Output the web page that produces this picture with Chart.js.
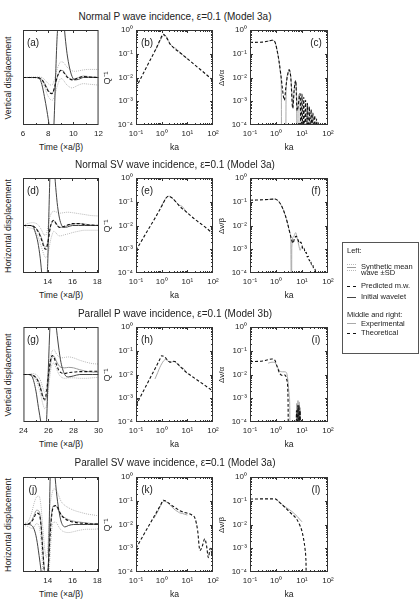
<!DOCTYPE html>
<html>
<head>
<meta charset="utf-8">
<script src="https://cdn.jsdelivr.net/npm/chart.js@4.4.0/dist/chart.umd.min.js"></script>
<style>
  body { margin: 0; background: #fff; }
  #page { position: relative; width: 419px; height: 603px; overflow: hidden;
          font-family: "Liberation Sans", Arial, sans-serif; color: #222; }
  canvas { position: absolute; }
  .t { position: absolute; white-space: nowrap; line-height: 1; }
  .s { position: absolute; height: 0; }
  #legend { position: absolute; left: 342px; top: 242px; width: 75px; height: 110px; border: 1px solid #555; }
</style>
</head>
<body>
<div id="page"><div id="legend"></div></div>
<script>
// ---- left column: waveforms, amplitude normalised so the panel spans -1..1 ----
var timeA = [6, 7, 7.3, 7.5, 7.7, 7.9, 8.1, 8.3, 8.4, 8.5, 8.6, 8.7, 8.8, 9.0, 9.2, 9.35, 9.5, 9.7, 9.9, 10.1, 10.4, 10.8, 11.2, 12];
var initA = [0, 0, -0.02, -0.15, -0.4, -0.7, -1.05, -1.5, -1.3, -0.7, 0.1, 0.8, 1.2, 1.8, 1.3, 0.85, 0.5, 0.2, 0.02, -0.05, -0.04, 0, 0, 0];
var meanA = [0, 0, -0.01, -0.04, -0.11, -0.22, -0.3, -0.33, -0.3, -0.22, -0.12, -0.02, 0.06, 0.15, 0.14, 0.08, 0.03, -0.02, -0.04, -0.03, 0, 0.03, 0.02, 0];
var predA = [0, 0, -0.01, -0.05, -0.13, -0.24, -0.32, -0.34, -0.3, -0.21, -0.1, 0, 0.07, 0.15, 0.12, 0.06, 0.01, -0.03, -0.05, -0.04, -0.01, 0.02, 0.01, 0];
var upA   = [0, 0.01, 0.01, 0, -0.04, -0.1, -0.15, -0.16, -0.12, -0.04, 0.06, 0.16, 0.24, 0.33, 0.32, 0.27, 0.22, 0.17, 0.14, 0.13, 0.14, 0.16, 0.17, 0.17];
var loA   = [0, -0.01, -0.03, -0.08, -0.19, -0.34, -0.44, -0.48, -0.46, -0.4, -0.3, -0.2, -0.12, -0.02, -0.05, -0.11, -0.16, -0.2, -0.22, -0.2, -0.16, -0.13, -0.14, -0.16];

var timeD = [12, 12.5, 12.8, 13.0, 13.2, 13.4, 13.55, 13.7, 13.85, 14.0, 14.1, 14.2, 14.35, 14.5, 14.65, 14.8, 15.0, 15.3, 15.6, 16.0, 16.5, 17, 17.5, 18.15];
var initD = [0, 0, -0.02, -0.15, -0.35, -0.7, -1.1, -1.5, -1.4, -0.8, 0.3, 1.2, 1.7, 1.3, 0.8, 0.4, 0.1, -0.04, -0.03, 0, 0, 0, 0, 0];
var meanD = [0, 0, -0.01, -0.04, -0.1, -0.2, -0.3, -0.42, -0.45, -0.35, -0.2, -0.05, 0.07, 0.1, 0.06, 0, -0.04, -0.03, 0, 0.03, 0.04, 0.03, 0.01, 0];
var predD = [0, 0, -0.01, -0.05, -0.12, -0.23, -0.34, -0.46, -0.5, -0.38, -0.22, -0.05, 0.08, 0.11, 0.05, -0.01, -0.04, -0.02, 0.01, 0.04, 0.04, 0.02, 0.01, 0];
var upD   = [0, 0.05, 0.06, 0.05, 0.02, -0.05, -0.12, -0.2, -0.2, -0.05, 0.1, 0.2, 0.28, 0.3, 0.29, 0.27, 0.26, 0.27, 0.28, 0.27, 0.25, 0.23, 0.21, 0.2];
var loD   = [0, -0.05, -0.07, -0.12, -0.22, -0.38, -0.5, -0.62, -0.68, -0.62, -0.5, -0.35, -0.2, -0.12, -0.15, -0.2, -0.22, -0.2, -0.18, -0.15, -0.12, -0.1, -0.1, -0.1];

var timeG = [24, 24.4, 24.7, 25.0, 25.2, 25.4, 25.55, 25.7, 25.85, 26.0, 26.15, 26.3, 26.45, 26.6, 26.8, 27.0, 27.3, 27.6, 28, 28.5, 29, 29.5, 30];
var initG = [0, 0, -0.05, -0.35, -0.7, -1.02, -1.3, -1.3, -0.95, 0.2, 1.2, 1.6, 1.4, 1.05, 0.6, 0.25, 0, -0.05, -0.03, 0, 0, 0, 0];
var meanG = [0, 0, -0.01, -0.06, -0.14, -0.3, -0.45, -0.55, -0.45, -0.1, 0.2, 0.37, 0.38, 0.3, 0.2, 0.15, 0.14, 0.15, 0.14, 0.1, 0.07, 0.05, 0.05];
var predG = [0, 0, -0.01, -0.07, -0.16, -0.33, -0.48, -0.52, -0.35, 0, 0.28, 0.4, 0.35, 0.24, 0.1, 0.04, 0.02, 0.04, 0.05, 0.06, 0.06, 0.07, 0.07];
var upG   = [0, 0, 0.02, 0, -0.05, -0.15, -0.28, -0.38, -0.25, 0.08, 0.35, 0.5, 0.52, 0.45, 0.38, 0.35, 0.36, 0.37, 0.35, 0.3, 0.26, 0.23, 0.22];
var loG   = [0, 0, -0.03, -0.12, -0.25, -0.45, -0.62, -0.72, -0.65, -0.3, 0.05, 0.22, 0.24, 0.15, 0.02, -0.05, -0.08, -0.07, -0.07, -0.08, -0.08, -0.07, -0.06];

var timeJ = [12, 12.4, 12.7, 12.9, 13.1, 13.3, 13.45, 13.6, 13.75, 13.9, 14.05, 14.2, 14.35, 14.5, 14.7, 14.9, 15.1, 15.4, 15.7, 16.1, 16.6, 17.2, 17.7, 18.15];
var initJ = [0, 0, -0.02, -0.1, -0.3, -0.65, -0.95, -1.3, -1.5, -1.4, -0.95, 1.0, 1.6, 1.3, 0.7, 0.3, 0.05, -0.05, -0.02, 0, 0, 0, 0, 0];
var meanJ = [0, 0.01, 0.08, 0.2, 0.3, 0.28, 0.05, -0.5, -1.0, -1.2, -0.8, -0.1, 0.3, 0.4, 0.38, 0.28, 0.2, 0.14, 0.1, 0.07, 0.05, 0.03, 0.02, 0.02];
var predJ = [0, 0.01, 0.06, 0.15, 0.24, 0.22, 0, -0.55, -1.05, -1.25, -0.9, -0.2, 0.25, 0.38, 0.4, 0.3, 0.2, 0.12, 0.08, 0.05, 0.03, 0.02, 0.01, 0.01];
var upJ   = [0.02, 0.06, 0.25, 0.45, 0.58, 0.6, 0.4, -0.05, -0.5, -0.7, -0.3, 0.4, 0.65, 0.75, 0.72, 0.6, 0.48, 0.4, 0.35, 0.3, 0.26, 0.22, 0.2, 0.18];
var loJ   = [-0.02, -0.04, -0.08, -0.05, 0.02, -0.04, -0.3, -0.95, -1.5, -1.7, -1.3, -0.6, -0.05, 0.05, 0.04, -0.05, -0.12, -0.16, -0.17, -0.15, -0.12, -0.1, -0.1, -0.09];

// ---- middle column: Q^-1 against ka ----
var kaB  = [0.1, 0.3, 0.6, 0.9, 1.15, 1.5, 2.1, 3.3, 5.2, 10, 20, 50, 100];
var qB   = [3.7e-3, 0.038, 0.16, 0.42, 0.66, 0.5, 0.26, 0.16, 0.11, 0.062, 0.033, 0.0145, 0.0075];
var kaBx = [0.55, 0.7, 0.9, 1.1, 1.3, 1.6, 2.1, 3.0, 3.5, 4.5, 6, 8, 10];
var qBx  = [0.13, 0.22, 0.38, 0.55, 0.62, 0.48, 0.27, 0.18, 0.17, 0.13, 0.1, 0.075, 0.062];

var kaE  = [0.1, 0.3, 0.6, 1.0, 1.4, 1.8, 2.4, 3.3, 5, 6.5, 8, 10, 20, 50, 100];
var qE   = [9e-4, 6.8e-3, 0.024, 0.065, 0.13, 0.17, 0.15, 0.11, 0.065, 0.05, 0.042, 0.034, 0.018, 8.5e-3, 4.5e-3];
var kaEx = [0.9, 1.2, 1.6, 2.0, 2.6, 3.5, 4.5, 5.5, 6.5, 7.5, 9, 10];
var qEx  = [0.055, 0.1, 0.16, 0.17, 0.14, 0.1, 0.075, 0.068, 0.062, 0.05, 0.039, 0.034];

var kaH  = [0.1, 0.3, 0.6, 0.85, 1.0, 1.3, 1.7, 2.1, 2.6, 3.3, 4.5, 6, 8, 10, 20, 50, 100];
var qH   = [5e-4, 5e-3, 0.021, 0.044, 0.062, 0.055, 0.04, 0.033, 0.036, 0.035, 0.026, 0.019, 0.014, 0.0115, 6.8e-3, 3.4e-3, 2e-3];
var kaHx = [0.55, 0.7, 0.85, 1.0, 1.2, 1.45, 1.8, 2.2, 2.7, 3.3, 4.5, 5.5, 6.5, 7.5, 8.5, 10];
var qHx  = [6.5e-3, 0.012, 0.02, 0.028, 0.038, 0.043, 0.036, 0.032, 0.035, 0.034, 0.025, 0.02, 0.019, 0.017, 0.013, 0.011];

var kaK  = [0.1, 0.3, 0.6, 0.9, 1.16, 1.5, 2.2, 3.5, 5.1, 8, 10, 15, 20, 25, 31, 38, 48, 56, 66, 78, 90, 100];
var qK   = [1e-3, 8.1e-3, 0.03, 0.065, 0.105, 0.095, 0.07, 0.05, 0.038, 0.032, 0.03, 0.025, 0.018, 6e-3, 8e-4, 1.2e-3, 2.5e-3, 1.3e-3, 4e-4, 1e-3, 6e-4, 3.5e-4];
var kaKx = [0.5, 0.7, 0.9, 1.2, 1.5, 2, 3, 4, 5, 6.5, 8, 10];
var qKx  = [0.018, 0.035, 0.06, 0.095, 0.09, 0.07, 0.045, 0.036, 0.031, 0.029, 0.027, 0.025];

// ---- right column: velocity change against ka (1e-6 = below the axis) ----
var kaC  = [0.1, 0.3, 0.5, 0.7, 0.9, 1.1, 1.3, 1.5, 1.7, 1.9, 2.1, 2.4, 2.8, 3.2, 3.7, 4.4, 5.0, 5.7, 6.5, 8.5, 9.2, 10, 10.8, 11.7, 12.7, 13.8, 15, 16.2, 17.6, 19.1, 20.7, 22.4, 24.3, 26.3, 28.5, 30.9, 33.5, 36.3, 39.4, 42.7, 46.2, 50.1, 60, 100];
var dvC  = [0.3, 0.31, 0.34, 0.37, 0.32, 0.14, 0.05, 0.016, 5e-3, 1.8e-3, 1.1e-3, 4e-3, 0.013, 0.021, 0.01, 5e-4, 3e-3, 7.5e-3, 4e-4, 2.1e-3, 1e-5, 2e-3, 1e-5, 1.48e-3, 1e-5, 1.1e-3, 1e-5, 8.1e-4, 1e-5, 6e-4, 1e-5, 4.5e-4, 1e-5, 3.3e-4, 1e-5, 2.45e-4, 1e-5, 1.8e-4, 1e-5, 1.35e-4, 1e-5, 1e-4, 1e-6, 1e-6];
var kaCx = [0.5, 0.7, 0.9, 1.1, 1.3, 1.5, 1.6, 1.65, 2.35, 2.45, 2.8, 3.2, 3.7, 4.2, 4.5, 5.0, 5.7, 6.2, 6.35, 6.9, 7.1, 7.8, 8.4, 8.5, 9.2];
var dvCx = [0.34, 0.37, 0.32, 0.14, 0.05, 0.014, 4e-3, 1e-6, 1e-6, 3e-3, 0.013, 0.022, 0.011, 1.5e-3, 6e-4, 3e-3, 7e-3, 2e-3, 1e-6, 1e-6, 1e-3, 2e-3, 8e-4, 1e-6, 1e-6];

var kaF  = [0.1, 0.5, 0.9, 1.2, 1.6, 2.2, 2.8, 3.4, 4.0, 4.5, 5.2, 6.0, 7.0, 8.0, 9.0, 9.8, 11, 12, 13.2, 14.5, 16, 17.5, 19.3, 21.2, 23.3, 25.6, 28.2, 31, 34, 37];
var dvF  = [0.115, 0.125, 0.13, 0.11, 0.07, 0.03, 0.012, 5e-3, 2.5e-3, 1.8e-3, 3e-3, 3.5e-3, 2.5e-3, 1.8e-3, 2e-3, 1.6e-3, 1.0e-3, 1.1e-3, 7e-4, 7.5e-4, 4.7e-4, 5e-4, 3.2e-4, 3.4e-4, 2.2e-4, 2.3e-4, 1.5e-4, 1.5e-4, 1e-4, 7e-5];
var kaFx = [0.5, 0.9, 1.2, 1.6, 2.2, 2.8, 3.4, 3.7, 3.95, 4.05, 4.8, 5.7, 6.5, 7.5, 8.5, 9.5, 10.5];
var dvFx = [0.125, 0.13, 0.11, 0.07, 0.03, 0.012, 5e-3, 2.5e-3, 1e-6, 1.2e-3, 3.5e-3, 5e-3, 3e-3, 1.5e-3, 9e-4, 1.2e-3, 1.1e-3];

var kaI  = [0.1, 0.3, 0.5, 0.7, 0.9, 1.1, 1.4, 1.8, 2.2, 2.6, 2.9, 3.05, 5.9, 6.1, 6.5, 6.9, 7.3, 7.7, 8.1, 8.5, 8.9, 100];
var dvI  = [0.035, 0.037, 0.042, 0.045, 0.04, 0.022, 0.011, 0.009, 0.0095, 0.006, 1e-3, 1e-6, 1e-6, 3e-4, 1e-5, 5e-4, 1e-5, 5e-4, 1e-5, 3e-4, 1e-6, 1e-6];
var kaIx = [0.5, 0.7, 0.9, 1.1, 1.4, 1.8, 2.2, 2.6, 2.9, 3.2, 3.4, 3.45, 6.0, 6.2, 6.6, 7.0, 7.4, 7.8, 8.2, 8.6, 8.8];
var dvIx = [0.03, 0.033, 0.032, 0.022, 0.014, 0.013, 0.013, 0.011, 5e-3, 1.5e-3, 3e-4, 1e-6, 1e-6, 6e-4, 1e-5, 8e-4, 1e-5, 7e-4, 1e-5, 4e-4, 1e-6];

var kaL  = [0.1, 0.5, 0.92, 1.3, 2.2, 3.5, 6.2, 8, 9.8, 11.5, 13, 14, 14.4, 14.6, 100];
var dvL  = [0.118, 0.12, 0.12, 0.09, 0.053, 0.032, 0.017, 0.01, 5.6e-3, 2.5e-3, 1e-3, 4e-4, 1e-4, 1e-6, 1e-6];
var kaLx = [1.0, 1.5, 2.2, 3, 4, 5, 6.5, 8, 10];
var dvLx = [0.115, 0.08, 0.056, 0.045, 0.036, 0.029, 0.022, 0.017, 0.013];

// ---- tick labels ----
var kaTicks = [0.1, 1, 10, 100];
var logYTicks = [1e-4, 1e-3, 1e-2, 1e-1, 1];
var timeTicksA = [6, 8, 10, 12];
var timeTicksD = [14, 16, 18];
var timeTicksG = [24, 26, 28, 30];

var rowTitles = ['Normal P wave incidence, \u03b5=0.1 (Model 3a)', 'Normal SV wave incidence, \u03b5=0.1 (Model 3a)',
                 'Parallel P wave incidence, \u03b5=0.1 (Model 3b)', 'Parallel SV wave incidence, \u03b5=0.1 (Model 3a)'];
var leftTitles = ['Vertical displacement', 'Horizontal displacement', 'Vertical displacement', 'Horizontal displacement'];
var rightTitles = ['\u0394v/\u03b1', '\u0394v/\u03b2', '\u0394v/\u03b1', '\u0394v/\u03b2'];
var letters = [['(a)', '(b)', '(c)'], ['(d)', '(e)', '(f)'], ['(g)', '(h)', '(i)'], ['(j)', '(k)', '(l)']];

// ---- layout ----
var FONT = '"Liberation Sans", Arial, sans-serif';
var rowTop = [30, 178, 327, 477];
var PH = 95;
var colL = [23, 136, 250];
var colW = [76, 77, 78];
var page = document.getElementById('page');

function text(str, x, y, size, align, rot) {
  var d = document.createElement('div');
  d.className = 't';
  d.textContent = str;
  d.style.fontSize = size + 'px';
  d.style.left = x + 'px';
  d.style.top = y + 'px';
  var tx = align === 'left' ? '0' : (align === 'right' ? '-100%' : '-50%');
  d.style.transform = 'translate(' + tx + ',-50%)' + (rot ? ' rotate(-90deg)' : '');
  page.appendChild(d);
}

function sample(x, y, w, border) {
  var d = document.createElement('div');
  d.className = 's';
  d.style.left = x + 'px';
  d.style.top = y + 'px';
  d.style.width = w + 'px';
  d.style.borderTop = border;
  page.appendChild(d);
}

var SUP = {'-': '\u207b', '0': '\u2070', '1': '\u00b9', '2': '\u00b2', '3': '\u00b3', '4': '\u2074'};
function pow10(v) {
  var e = Math.round(Math.log10(v));
  return '10' + String(e).split('').map(function (c) { return SUP[c]; }).join('');
}
function logMinor(lo, hi) {
  var out = [];
  for (var e = lo; e < hi; e++) for (var m = 2; m < 10; m++) out.push(m * Math.pow(10, e));
  return out;
}

function xy(xs, ys) {
  return xs.map(function (x, i) { return {x: x, y: ys[i]}; });
}
function line(xs, ys, color, dash, width) {
  return {data: xy(xs, ys), borderColor: color, borderDash: dash, borderWidth: width,
          pointRadius: 0, fill: false, cubicInterpolationMode: 'monotone'};
}

// frame and inward tick marks on all four sides
var framePlugin = {
  id: 'frame',
  afterDatasetsDraw: function (chart, args, o) {
    var c = chart.ctx, a = chart.chartArea, xs = chart.scales.x, ys = chart.scales.y;
    c.save();
    c.strokeStyle = '#333';
    c.lineWidth = 1;
    c.beginPath();
    function tx(list, len) {
      list.forEach(function (v) {
        var p = Math.round(xs.getPixelForValue(v)) + 0.5;
        if (p < a.left + 1 || p > a.right - 1) return;
        c.moveTo(p, a.bottom); c.lineTo(p, a.bottom - len);
        c.moveTo(p, a.top); c.lineTo(p, a.top + len);
      });
    }
    function ty(list, len) {
      list.forEach(function (v) {
        var p = Math.round(ys.getPixelForValue(v)) + 0.5;
        if (p < a.top + 1 || p > a.bottom - 1) return;
        c.moveTo(a.left, p); c.lineTo(a.left + len, p);
        c.moveTo(a.right, p); c.lineTo(a.right - len, p);
      });
    }
    tx(o.xMajor, 3); tx(o.xMinor, 2);
    ty(o.yMajor, 3); ty(o.yMinor, 2);
    c.stroke();
    c.strokeRect(a.left + 0.5, a.top + 0.5, a.right - a.left - 1, a.bottom - a.top - 1);
    c.restore();
  }
};

function makeCanvas(left, top, w, h) {
  var c = document.createElement('canvas');
  c.width = w; c.height = h;
  c.style.left = left + 'px';
  c.style.top = top + 'px';
  c.style.width = w + 'px';
  c.style.height = h + 'px';
  page.appendChild(c);
  return c;
}

function tickStyle(pad, cb) {
  var t = {autoSkip: false, maxRotation: 0, minRotation: 0, padding: pad, color: '#222',
           font: {size: 8, family: FONT}};
  if (cb) t.callback = cb;
  return t;
}

function baseOptions(pad, scales, frame) {
  return {
    responsive: false, animation: false, devicePixelRatio: 1, events: [],
    layout: {padding: pad},
    plugins: {legend: {display: false}, tooltip: {enabled: false}, frame: frame},
    scales: scales
  };
}

function timePanel(row, tMin, tMax, ticks, t, pred, init, mean, up, lo) {
  var L = colL[0], T = rowTop[row], W = colW[0];
  var padL = 8, padR = 8, padT = 5, axH = 16;
  var minor = [];
  for (var v = Math.ceil(tMin); v <= tMax; v++) minor.push(v);
  var cv = makeCanvas(L - padL, T - padT, W + padL + padR, PH + padT + axH);
  new Chart(cv, {
    type: 'line',
    data: {datasets: [
      line(t, pred, '#111', [3, 2], 1.1),
      line(t, init, '#444', [], 1),
      line(t, mean, '#9a9a9a', [], 1),
      line(t, up, '#b8b8b8', [1, 1], 1),
      line(t, lo, '#b8b8b8', [1, 1], 1)
    ]},
    options: baseOptions({left: padL, right: padR, top: padT, bottom: 0}, {
      x: {type: 'linear', min: tMin, max: tMax,
          afterBuildTicks: function (s) { s.ticks = ticks.map(function (v) { return {value: v}; }); },
          afterFit: function (s) { s.height = axH; },
          grid: {display: false, drawTicks: false}, border: {display: false},
          ticks: tickStyle(4)},
      y: {type: 'linear', min: -1, max: 1, display: false}
    }, {xMajor: ticks, xMinor: minor, yMajor: [], yMinor: []}),
    plugins: [framePlugin]
  });
}

function logPanel(row, col, kaT, vT, kaX, vX) {
  var L = colL[col], T = rowTop[row], W = colW[col];
  var axW = 34, padR = 10, padT = 8, axH = 16;
  var cv = makeCanvas(L - axW, T - padT, W + axW + padR, PH + padT + axH);
  new Chart(cv, {
    type: 'line',
    data: {datasets: [
      line(kaT, vT, '#111', [3, 2], 1.1),
      line(kaX, vX, '#aaaaaa', [], 1)
    ]},
    options: baseOptions({left: 0, right: padR, top: padT, bottom: 0}, {
      x: {type: 'logarithmic', min: 0.1, max: 100,
          afterBuildTicks: function (s) { s.ticks = kaTicks.map(function (v) { return {value: v}; }); },
          afterFit: function (s) { s.height = axH; },
          grid: {display: false, drawTicks: false}, border: {display: false},
          ticks: tickStyle(4, pow10)},
      y: {type: 'logarithmic', min: 1e-4, max: 1,
          afterBuildTicks: function (s) { s.ticks = logYTicks.map(function (v) { return {value: v}; }); },
          afterFit: function (s) { s.width = axW; },
          grid: {display: false, drawTicks: false}, border: {display: false},
          ticks: tickStyle(3, pow10)}
    }, {xMajor: kaTicks, xMinor: logMinor(-1, 2), yMajor: logYTicks, yMinor: logMinor(-4, 0)}),
    plugins: [framePlugin]
  });
}

timePanel(0, 6, 12, timeTicksA, timeA, predA, initA, meanA, upA, loA);
timePanel(1, 12, 18.15, timeTicksD, timeD, predD, initD, meanD, upD, loD);
timePanel(2, 24, 30, timeTicksG, timeG, predG, initG, meanG, upG, loG);
timePanel(3, 12, 18.15, timeTicksD, timeJ, predJ, initJ, meanJ, upJ, loJ);

logPanel(0, 1, kaB, qB, kaBx, qBx);
logPanel(1, 1, kaE, qE, kaEx, qEx);
logPanel(2, 1, kaH, qH, kaHx, qHx);
logPanel(3, 1, kaK, qK, kaKx, qKx);

logPanel(0, 2, kaC, dvC, kaCx, dvCx);
logPanel(1, 2, kaF, dvF, kaFx, dvFx);
logPanel(2, 2, kaI, dvI, kaIx, dvIx);
logPanel(3, 2, kaL, dvL, kaLx, dvLx);

// ---- text ----
var titleY = [17, 165, 314, 463];
for (var r = 0; r < 4; r++) {
  var T = rowTop[r], mid = T + PH / 2, lab = T + PH + 22;
  text(rowTitles[r], 175, titleY[r], 10);
  text(leftTitles[r], 7.5, mid, 8.8, 'center', true);
  text('Q\u207b\u00b9', 107, mid, 9, 'center', true);
  text(rightTitles[r], 222, mid, 8, 'center', true);
  text('Time (\u00d7a/\u03b2)', 61, lab, 8.6);
  text('ka', 174.5, lab, 8.6);
  text('ka', 289, lab, 8.6);
  text(letters[r][0], colL[0] + 10, T + 13, 10);
  text(letters[r][1], colL[1] + 11, T + 13, 10);
  text(letters[r][2], colL[2] + colW[2] - 12, T + 13, 10);
}

// ---- legend ----
var LS = 7.5;
text('Left:', 347, 251, LS, 'left');
sample(347, 264, 9, '1px dotted #b8b8b8');
sample(347, 267, 9, '1px solid #9a9a9a');
sample(347, 270, 9, '1px dotted #b8b8b8');
text('Synthetic mean', 361, 266.5, LS, 'left');
text('wave \u00b1SD', 361, 273, LS, 'left');
sample(347, 286, 9, '1px dashed #111');
text('Predicted m.w.', 361, 286, LS, 'left');
sample(347, 297, 9, '1px solid #444');
text('Initial wavelet', 361, 297, LS, 'left');
text('Middle and right:', 347, 315, LS, 'left');
sample(347, 323, 9, '1px solid #aaaaaa');
text('Experimental', 361, 323.5, LS, 'left');
sample(347, 333, 9, '1px dashed #111');
text('Theoretical', 361, 333, LS, 'left');
</script>
</body>
</html>
